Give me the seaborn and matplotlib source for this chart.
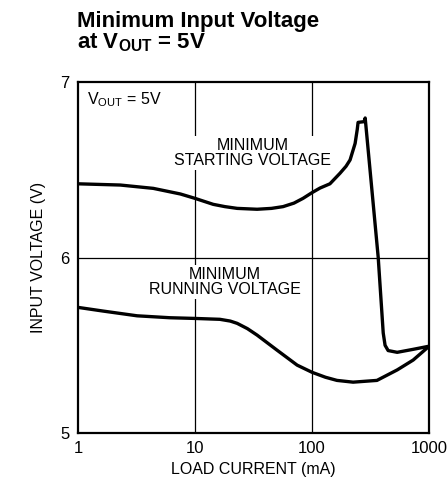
import matplotlib
matplotlib.use("Agg")
import matplotlib.pyplot as plt
import seaborn as sns
import pandas as pd

# Datos
start_ma = [1, 2.3, 4.4, 7.5, 10, 14.3, 18, 22.9, 33.9, 45, 56.5, 70, 83.6, 100, 117, 142,
            173, 195, 211, 233, 243, 247, 278, 284, 367, 405, 420, 446, 533, 730, 1000]
start_v = [6.42, 6.413, 6.394, 6.362, 6.337, 6.303, 6.29, 6.28, 6.275, 6.28, 6.29, 6.31,
           6.337, 6.37, 6.396, 6.42, 6.48, 6.52, 6.556, 6.65, 6.73, 6.77, 6.774, 6.795,
           6.00, 5.57, 5.50, 5.47, 5.46, 5.477, 5.495]
run_ma = [1, 1.64, 3.2, 6.1, 10, 16.3, 20, 22.9, 28, 33.9, 50, 74.5, 100, 130, 163, 224,
          358, 534, 730, 1000]
run_v = [5.716, 5.695, 5.668, 5.657, 5.653, 5.648, 5.638, 5.625, 5.595, 5.558, 5.473,
         5.387, 5.346, 5.318, 5.30, 5.29, 5.30, 5.36, 5.416, 5.495]
x_ticks = [1, 10, 100, 1000]
x_labels = ["1", "10", "100", "1000"]
y_ticks = [5, 6, 7]

sns.set_style("white")
fam = ["Liberation Sans Narrow", "Liberation Sans", "DejaVu Sans"]
plt.rcParams["font.family"] = fam
plt.rcParams["mathtext.fontset"] = "custom"
plt.rcParams["mathtext.rm"] = "Liberation Sans"
plt.rcParams["mathtext.bf"] = "Liberation Sans:bold"
for k in ["text.color", "axes.labelcolor", "xtick.color", "ytick.color"]:
    plt.rcParams[k] = "black"

df = pd.concat([
    pd.DataFrame({"ma": start_ma, "v": start_v, "curva": "start"}),
    pd.DataFrame({"ma": run_ma, "v": run_v, "curva": "run"}),
])

fig = plt.figure(figsize=(4.48, 4.91), dpi=100)
ax = fig.add_axes([0.174, 0.118, 0.784, 0.715])

for ln in [10, 100]:
    ax.axvline(ln, color="black", lw=0.9, zorder=1)
ax.axhline(6, color="black", lw=0.9, zorder=1)

sns.lineplot(data=df, x="ma", y="v", units="curva", estimator=None, sort=False,
             color="black", lw=2.4, ax=ax, zorder=4,
             solid_joinstyle="round", solid_capstyle="round")

ax.set_xscale("log")
ax.set_xlim(1, 1000)
ax.set_ylim(5, 7)
ax.set_xticks(x_ticks)
ax.set_xticklabels(x_labels)
ax.set_yticks(y_ticks)
ax.minorticks_off()
ax.tick_params(length=0, labelsize=12, pad=6)
for s in ax.spines.values():
    s.set_linewidth(1.6)
    s.set_color("black")
ax.set_xlabel("LOAD CURRENT (mA)", fontsize=11.5, labelpad=4)
ax.set_ylabel("INPUT VOLTAGE (V)", fontsize=11.5, labelpad=10)

box = dict(facecolor="white", edgecolor="none", pad=1)
ax.text(1.2, 6.9, "V$_{\\mathrm{OUT}}$ = 5V", fontsize=11.5, va="center", ha="left",
        zorder=3, bbox=box)
ax.text(31, 6.595, "MINIMUM\nSTARTING VOLTAGE", fontsize=11.5, ha="center", va="center",
        linespacing=1.05, zorder=3, bbox=box)
ax.text(18, 5.86, "MINIMUM\nRUNNING VOLTAGE", fontsize=11.5, ha="center", va="center",
        linespacing=1.05, zorder=3, bbox=box)

fig.text(0.172, 0.978, "Minimum Input Voltage\nat V$_{\\mathbf{OUT}}$ = 5V", fontsize=16,
         fontweight="bold", ha="left", va="top", linespacing=1.0)

fig.savefig("out.png", dpi=100)
